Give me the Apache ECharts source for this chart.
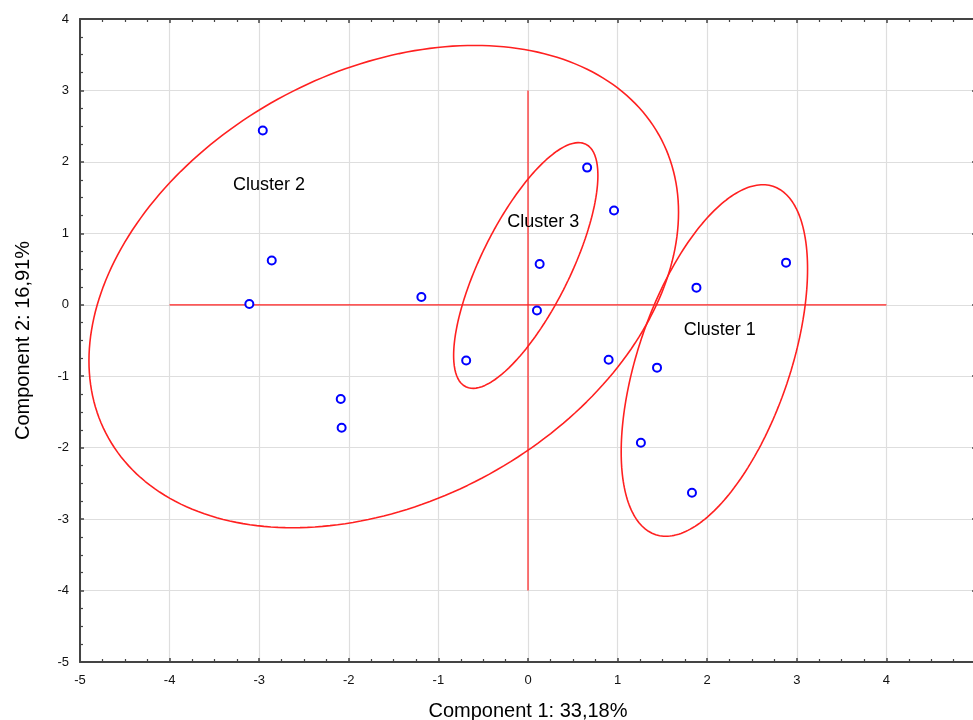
<!DOCTYPE html>
<html>
<head>
<meta charset="utf-8">
<script src="https://cdn.jsdelivr.net/npm/echarts@6/dist/echarts.min.js"></script>
<style>
html,body{margin:0;padding:0;background:#fff;}
#chart{width:973px;height:720px;}
</style>
</head>
<body>
<div id="chart"></div>
<script>
// Observations (component scores)
const pcX = [-2.96, -2.86, -3.11, -1.19, -2.09, -2.08, -0.69, 0.13, 0.10, 0.66, 0.96, 0.90, 1.44, 1.88, 2.88, 1.26, 1.83];
const pcY = [2.44, 0.62, 0.01, 0.11, -1.32, -1.72, -0.78, 0.57, -0.08, 1.92, 1.32, -0.77, -0.88, 0.24, 0.59, -1.93, -2.63];

// Cluster ellipses: centre, half-width (x), half-height (y), y-offset of the rightmost point
const clusterNames = ['Cluster 1', 'Cluster 2', 'Cluster 3'];
const ellCX = [2.08, -1.61, -0.025];
const ellCY = [-0.78, 0.255, 0.55];
const ellWX = [1.04, 3.29, 0.805];
const ellWY = [2.46, 3.375, 1.72];
const ellK  = [1.28, 1.04, 1.26];

// Cluster label anchors
const labelX = [2.14, -2.89, 0.17];
const labelY = [-0.36, 1.67, 1.16];

// Reference cross
const crossH = [[-4, 0], [4, 0]];
const crossV = [[0, 3], [0, -4]];

const xTicks = [-5, -4, -3, -2, -1, 0, 1, 2, 3, 4, 5];
const yTicks = [-5, -4, -3, -2, -1, 0, 1, 2, 3, 4];

function ellipsePoints(i, n) {
  const pts = [];
  const s = Math.sqrt(ellWY[i] * ellWY[i] - ellK[i] * ellK[i]);
  for (let j = 0; j <= n; j++) {
    const t = 2 * Math.PI * j / n;
    pts.push([ellCX[i] + ellWX[i] * Math.cos(t), ellCY[i] + ellK[i] * Math.cos(t) + s * Math.sin(t)]);
  }
  return pts;
}

const red = '#ff2020';
const axisCol = '#444444';
const font = '"Liberation Sans", Arial, sans-serif';

const baseAxis = {
  axisLine: { show: true, onZero: false, lineStyle: { color: axisCol, width: 2 } },
  axisTick: { show: true, inside: true, length: 4, lineStyle: { color: axisCol, width: 1.5 } },
  minorTick: { show: true, splitNumber: 4, length: 3, lineStyle: { color: axisCol, width: 1.2 } },
  splitLine: { show: false },
  axisLabel: { show: false }
};

const series = [];
clusterNames.forEach((name, i) => {
  series.push({
    type: 'line', name: name, data: ellipsePoints(i, 240), showSymbol: false, symbol: 'none',
    lineStyle: { color: red, width: 1.6 }, silent: true, z: 2, animation: false
  });
});
series.push({ type: 'line', data: crossH, showSymbol: false, symbol: 'none', lineStyle: { color: red, width: 1.2 }, z: 2, animation: false });
series.push({ type: 'line', data: crossV, showSymbol: false, symbol: 'none', lineStyle: { color: red, width: 1.2 }, z: 2, animation: false });
series.push({
  type: 'scatter',
  data: pcX.map((x, i) => [x, pcY[i]]),
  symbol: 'emptyCircle', symbolSize: 8,
  itemStyle: { color: '#0000ff', borderColor: '#0000ff', borderWidth: 2.6, opacity: 1 },
  z: 5, animation: false
});
series.push({
  type: 'scatter',
  data: labelX.map((x, i) => ({ value: [x, labelY[i]], name: clusterNames[i] })),
  symbolSize: 0,
  label: { show: true, position: 'inside', formatter: p => p.name, color: '#000', fontSize: 18, fontFamily: font, textBorderWidth: 0, opacity: 1 },
  z: 6, animation: false
});

const chart = echarts.init(document.getElementById('chart'), null, { renderer: 'canvas' });
chart.setOption({
  backgroundColor: '#fff',
  animation: false,
  grid: { left: 80, top: 19, width: 896, height: 643, outerBoundsMode: 'none', containLabel: false },
  xAxis: [
    Object.assign({}, baseAxis, {
      type: 'value', position: 'bottom', min: xTicks[0], max: xTicks[xTicks.length - 1], interval: 1,
      splitLine: { show: true, lineStyle: { color: '#dedede', width: 1.2 } },
      axisLabel: { show: true, color: '#111', fontSize: 13, fontFamily: font, margin: 12, formatter: v => String(v) },
      name: 'Component 1: 33,18%', nameLocation: 'middle', nameGap: 39,
      nameTextStyle: { color: '#000', fontSize: 20, fontFamily: font }
    }),
    Object.assign({}, baseAxis, {
      type: 'value', position: 'top', min: xTicks[0], max: xTicks[xTicks.length - 1], interval: 1
    })
  ],
  yAxis: [
    Object.assign({}, baseAxis, {
      type: 'value', position: 'left', min: yTicks[0], max: yTicks[yTicks.length - 1], interval: 1,
      splitLine: { show: true, lineStyle: { color: '#dedede', width: 1.2 } },
      axisLabel: { show: true, color: '#111', fontSize: 13, fontFamily: font, margin: 11, formatter: v => String(v) },
      name: 'Component 2: 16,91%', nameLocation: 'middle', nameGap: 47, nameRotate: 90,
      nameTextStyle: { color: '#000', fontSize: 20, fontFamily: font }
    }),
    Object.assign({}, baseAxis, {
      type: 'value', position: 'right', min: yTicks[0], max: yTicks[yTicks.length - 1], interval: 1
    })
  ],
  series: series
});
</script>
</body>
</html>
